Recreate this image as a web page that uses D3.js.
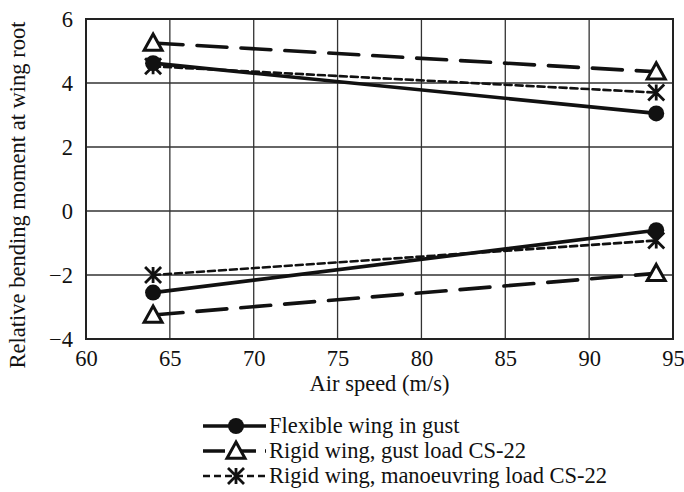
<!DOCTYPE html>
<html><head><meta charset="utf-8">
<script src="https://cdn.jsdelivr.net/npm/d3@7"></script>
<style>body{margin:0;background:#fff}svg{display:block}text{font-family:"Liberation Serif","Times New Roman",serif;fill:#111}</style>
</head><body>
<svg id="c" width="684" height="492"></svg>
<script>
const speeds = [64, 94];
const flexUpper = [4.62, 3.05];
const flexLower = [-2.55, -0.6];
const rigidGustUpper = [5.25, 4.35];
const rigidGustLower = [-3.25, -1.95];
const manoUpper = [4.52, 3.7];
const manoLower = [-2.0, -0.92];
const xTicks = [60, 65, 70, 75, 80, 85, 90, 95];
const yTicks = [-4, -2, 0, 2, 4, 6];
const seriesNames = ["Flexible wing in gust", "Rigid wing, gust load CS-22", "Rigid wing, manoeuvring load CS-22"];

const svg = d3.select("#c");
const L = 86, R = 673, T = 19, B = 339;
const x = d3.scaleLinear().domain([60, 95]).range([L, R]);
const y = d3.scaleLinear().domain([-4, 6]).range([B, T]);
const FS = 22.5;

// grid
svg.append("g").selectAll("line.v").data(xTicks).join("line")
  .attr("x1", d => x(d)).attr("x2", d => x(d)).attr("y1", T).attr("y2", B)
  .attr("stroke", "#333").attr("stroke-width", 1.3);
svg.append("g").selectAll("line.h").data(yTicks).join("line")
  .attr("y1", d => y(d)).attr("y2", d => y(d)).attr("x1", L).attr("x2", R)
  .attr("stroke", "#333").attr("stroke-width", 1.3);
svg.append("rect").attr("x", L).attr("y", T).attr("width", R - L).attr("height", B - T)
  .attr("fill", "none").attr("stroke", "#222").attr("stroke-width", 2);

// axes labels
const xa = svg.append("g").attr("transform", `translate(0,${B})`)
  .call(d3.axisBottom(x).tickValues(xTicks).tickSize(0).tickPadding(11).tickFormat(d3.format("d")));
xa.select(".domain").remove();
xa.selectAll("text").attr("font-size", FS).style("font-family", "Liberation Serif");
const ya = svg.append("g").attr("transform", `translate(${L},0)`)
  .call(d3.axisLeft(y).tickValues(yTicks).tickSize(0).tickPadding(13).tickFormat(d3.format("d")));
ya.select(".domain").remove();
ya.selectAll("text").attr("font-size", FS).style("font-family", "Liberation Serif");

svg.append("text").attr("x", (L + R) / 2).attr("y", 391).attr("text-anchor", "middle")
  .attr("font-size", FS).text("Air speed (m/s)");
svg.append("text").attr("transform", `translate(25,${(T + B) / 2 + 16}) rotate(-90)`).attr("text-anchor", "middle")
  .attr("font-size", FS).text("Relative bending moment at wing root");

const styles = [
  {dash: null, w: 3.6, marker: "circle"},
  {dash: "30,14", w: 3.6, marker: "triangle"},
  {dash: "7,4", w: 2.6, marker: "star"}
];
const data = [[flexUpper, flexLower], [rigidGustUpper, rigidGustLower], [manoUpper, manoLower]];
const line = d3.line().x(d => x(d[0])).y(d => y(d[1]));

function marker(g, type, cx, cy) {
  if (type === "circle") {
    g.append("circle").attr("cx", cx).attr("cy", cy).attr("r", 8).attr("fill", "#111");
  } else if (type === "triangle") {
    const s = 9;
    g.append("path").attr("d", `M${cx},${cy - s}L${cx + s},${cy + s * 0.8}L${cx - s},${cy + s * 0.8}Z`)
      .attr("fill", "#fff").attr("stroke", "#111").attr("stroke-width", 3).attr("stroke-linejoin", "miter");
  } else {
    const s = 8;
    g.append("path").attr("d", `M${cx - s},${cy - s}L${cx + s},${cy + s}M${cx + s},${cy - s}L${cx - s},${cy + s}M${cx},${cy - s}L${cx},${cy + s}`)
      .attr("stroke", "#111").attr("stroke-width", 2.8).attr("fill", "none");
  }
}

const order = [2, 1, 0];
order.forEach(i => {
  const st = styles[i];
  const g = svg.append("g");
  data[i].forEach(vals => {
    const pts = speeds.map((s, k) => [s, vals[k]]);
    g.append("path").attr("d", line(pts)).attr("fill", "none").attr("stroke", "#111")
      .attr("stroke-width", st.w).attr("stroke-dasharray", st.dash).attr("stroke-linecap", "round");
    pts.forEach(p => marker(g, st.marker, x(p[0]), y(p[1])));
  });
});

// legend
const legY = [426, 451, 476];
seriesNames.forEach((name, i) => {
  const st = styles[i];
  const g = svg.append("g");
  g.append("line").attr("x1", 203).attr("x2", 266).attr("y1", legY[i]).attr("y2", legY[i])
    .attr("stroke", "#111").attr("stroke-width", st.w).attr("stroke-dasharray", i === 1 ? "22,9" : (i === 2 ? "7,4" : null));
  marker(g, st.marker, 236, legY[i]);
  g.append("text").attr("x", 269).attr("y", legY[i] + 7).attr("font-size", FS).text(name);
});
</script>
</body></html>
